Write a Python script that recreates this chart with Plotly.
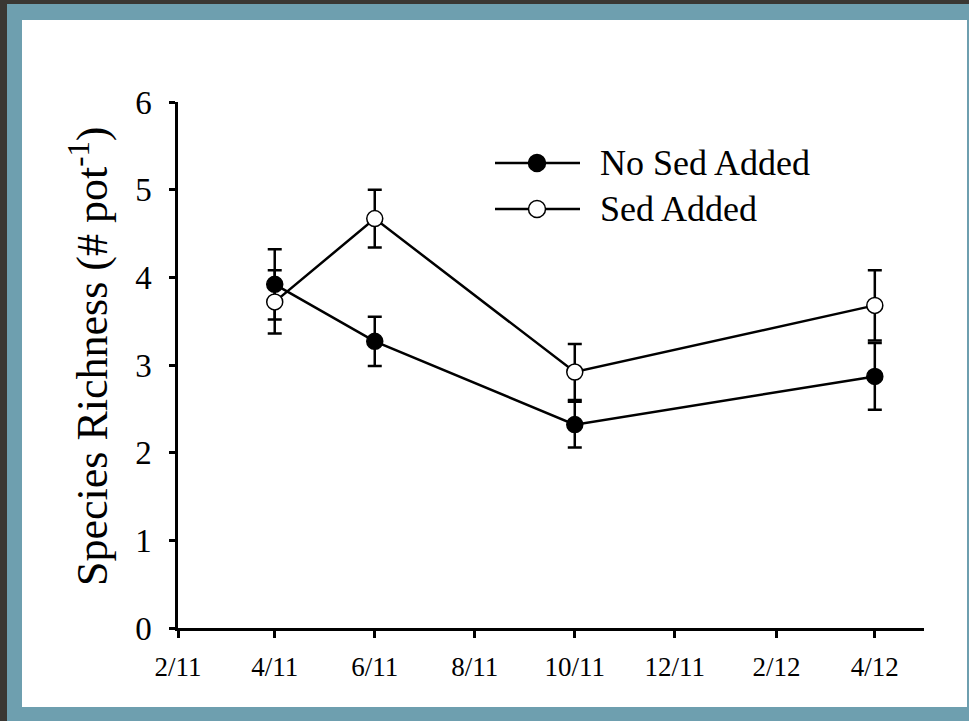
import plotly.graph_objects as go

# ---- data ----
dates = ["2011-04-01", "2011-06-01", "2011-10-01", "2012-04-01"]
no_sed = [3.92, 3.27, 2.32, 2.87]
no_sed_err = [0.40, 0.28, 0.26, 0.38]
sed = [3.72, 4.67, 2.92, 3.68]
sed_err = [0.36, 0.33, 0.32, 0.40]
series_names = ["No Sed Added", "Sed Added"]

x_tickvals = ["2011-02-01", "2011-04-01", "2011-06-01", "2011-08-01",
              "2011-10-01", "2011-12-01", "2012-02-01", "2012-04-01"]
x_ticktext = ["2/11", "4/11", "6/11", "8/11", "10/11", "12/11", "2/12", "4/12"]
y_tickvals = [0, 1, 2, 3, 4, 5, 6]
y_title = "Species Richness (# pot<sup>-1</sup>)"

# ---- layout geometry ----
W, H = 969, 721
L, R, T, B = 178, 45, 102, 93
PW, PH = W - L - R, H - T - B

def px(x):
    return (x - L) / PW

def py(y):
    return (H - B - y) / PH

FONT = "Liberation Serif"
TEAL = "#6E9FAF"
DARK = "#3A3733"

fig = go.Figure()

fig.add_trace(go.Scatter(
    x=dates, y=no_sed, mode="lines+markers", name=series_names[0],
    line=dict(color="black", width=2.5),
    marker=dict(symbol="circle", size=16, color="black", line=dict(color="black", width=1.5)),
    error_y=dict(type="data", array=no_sed_err, visible=True, color="black", thickness=2.5, width=7),
    showlegend=False,
))
fig.add_trace(go.Scatter(
    x=dates, y=sed, mode="lines+markers", name=series_names[1],
    line=dict(color="black", width=2.5),
    marker=dict(symbol="circle", size=16, color="white", line=dict(color="black", width=1.5)),
    error_y=dict(type="data", array=sed_err, visible=True, color="black", thickness=2.5, width=7),
    showlegend=False,
))

shapes = [
    dict(type="rect", xref="paper", yref="paper", x0=px(22), x1=px(967), y0=py(707), y1=py(20),
         fillcolor="white", line=dict(width=0), layer="below"),
    dict(type="rect", xref="paper", yref="paper", x0=px(0), x1=px(7), y0=py(721), y1=py(0),
         fillcolor=DARK, line=dict(width=0), layer="below"),
    dict(type="rect", xref="paper", yref="paper", x0=px(0), x1=px(969), y0=py(4), y1=py(0),
         fillcolor=DARK, line=dict(width=0), layer="below"),
]

annotations = []
leg_rows = [(163, "black"), (209, "white")]
for (yy, fill), name in zip(leg_rows, series_names):
    shapes.append(dict(type="line", xref="paper", yref="paper", x0=px(495), x1=px(580),
                       y0=py(yy), y1=py(yy), line=dict(color="black", width=2.5)))
    shapes.append(dict(type="circle", xref="paper", yref="paper",
                       xsizemode="pixel", ysizemode="pixel",
                       xanchor=px(537), yanchor=py(yy), x0=-8.5, x1=8.5, y0=-8.5, y1=8.5,
                       fillcolor=fill, line=dict(color="black", width=1.5)))
    annotations.append(dict(xref="paper", yref="paper", x=px(598), y=py(yy), text=name,
                            showarrow=False, xanchor="left", yanchor="middle",
                            font=dict(family=FONT, size=36, color="black")))

# y-axis title
annotations.append(dict(xref="paper", yref="paper", x=px(89), y=py(357), text=y_title,
                        textangle=-90, showarrow=False, xanchor="center", yanchor="middle",
                        font=dict(family=FONT, size=44, color="black")))

fig.update_layout(
    width=W, height=H,
    margin=dict(l=L, r=R, t=T, b=B, pad=0),
    paper_bgcolor=TEAL, plot_bgcolor="white",
    shapes=shapes, annotations=annotations,
    font=dict(family=FONT, color="black"),
    xaxis=dict(
        type="date", range=["2011-02-01", "2012-05-01"],
        tickmode="array", tickvals=x_tickvals, ticktext=x_ticktext,
        ticks="outside", ticklen=7, tickwidth=2.5, tickcolor="black",
        showline=True, linecolor="black", linewidth=2.5,
        showgrid=False, zeroline=False,
        tickfont=dict(family=FONT, size=27, color="black"),
        ticklabelstandoff=6,
    ),
    yaxis=dict(
        range=[0, 6], tickmode="array", tickvals=y_tickvals,
        ticks="outside", ticklen=6, tickwidth=2.5, tickcolor="black",
        showline=True, linecolor="black", linewidth=2.5,
        showgrid=False, zeroline=False,
        tickfont=dict(family=FONT, size=33, color="black"),
        ticklabelstandoff=11,
    ),
)

fig.write_html("out.html")
